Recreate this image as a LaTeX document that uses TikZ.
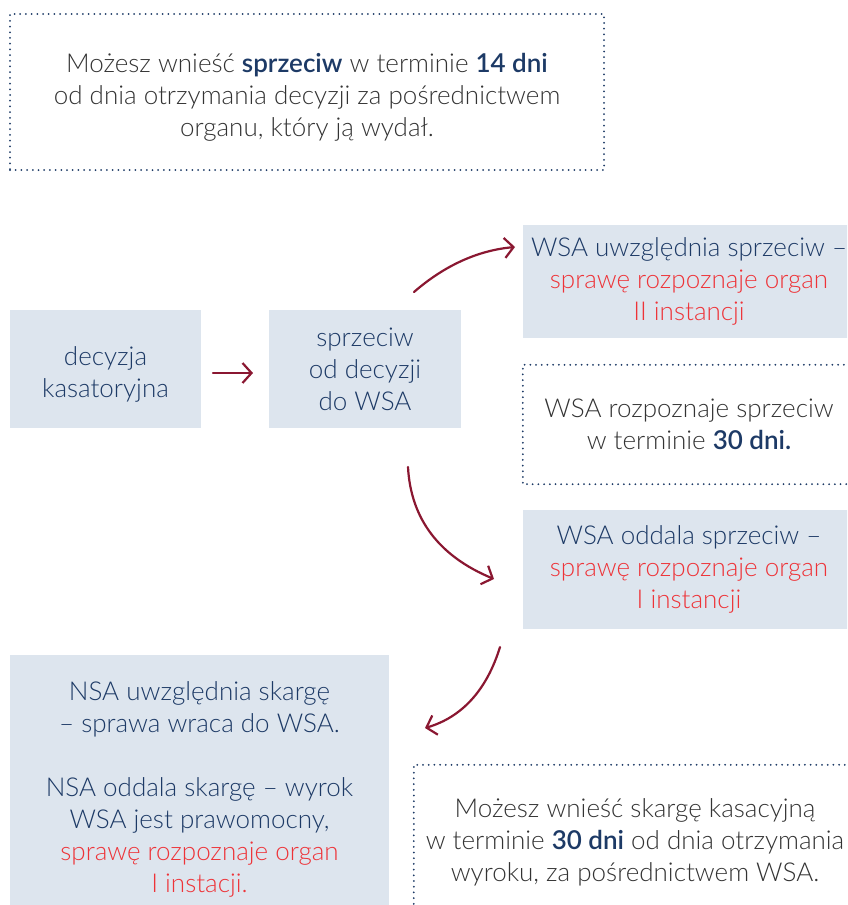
\documentclass[tikz,border=0pt]{standalone}
\usepackage{fontspec}
\setmainfont{Lato}[UprightFont=* Light, BoldFont=* Semibold]
\usetikzlibrary{arrows.meta}

\definecolor{boxfill}{HTML}{DDE5EE}
\definecolor{navy}{HTML}{1D3A66}
\definecolor{txtgray}{HTML}{333333}
\definecolor{alertred}{HTML}{EE3338}
\definecolor{arrowred}{HTML}{8A1731}
\newcommand{\emphnavy}[1]{\textbf{\textcolor{navy}{#1}}}
\newcommand{\redtxt}[1]{\textcolor{alertred}{#1}}
\newcommand{\topgap}[1]{\rule{0pt}{#1pt}}

\begin{document}
\begin{tikzpicture}[x=1pt, y=-1pt]
	\tikzset{every node/.style={font=\fontsize{26}{32}\selectfont, align=center, inner sep=0pt},
		fillbox/.style={fill=boxfill, text=navy},
		notebox/.style={text=txtgray},
		dotline/.style={draw=navy, line width=2pt, line cap=round, dash pattern=on 0pt off 5.7pt},
		flow/.style={draw=arrowred, line width=2.2pt, line cap=round, -{Straight Barb[length=9pt, width=20pt, line width=2.2pt]}} }

	\useasboundingbox (0,0) rectangle (847,905);
	\clip (0,0) rectangle (847,905);

	% notes
	\node[dotline, notebox, minimum width=594pt, minimum height=156pt] (info) at (307,92)
		{\topgap{30}Możesz wnieść \emphnavy{sprzeciw} w terminie \emphnavy{14 dni}\\od dnia otrzymania decyzji za pośrednictwem\\organu, który ją wydał.};
	\node[notebox, minimum width=332pt, minimum height=119pt] (review) at (689,424.5)
		{WSA rozpoznaje sprzeciw\\w terminie \emphnavy{30 dni.}};
	\node[notebox, minimum width=442pt, minimum height=150pt] (cassation) at (635,840)
		{\topgap{24}Możesz wnieść skargę kasacyjną\\w terminie \emphnavy{30 dni} od dnia otrzymania\\wyroku, za pośrednictwem WSA.};
	\draw[dotline] (review.north east) -- (review.north west) -- (review.south west) -- (review.south east);
	\draw[dotline] (cassation.south west) -- (cassation.north west) -- (cassation.north east);

	% steps
	\node[fillbox, minimum width=191pt, minimum height=118pt] (decision) at (105.5,369) {\topgap{30}decyzja\\kasatoryjna};
	\node[fillbox, minimum width=192pt, minimum height=118pt] (objection) at (365,369) {sprzeciw\\od decyzji\\do WSA};
	\node[fillbox, minimum width=332pt, minimum height=113pt] (granted) at (689,281.5)
		{WSA uwzględnia sprzeciw –\\\redtxt{sprawę rozpoznaje organ}\\\redtxt{II instancji}};
	\node[fillbox, minimum width=332pt, minimum height=119pt] (dismissed) at (689,569.5)
		{WSA oddala sprzeciw –\\\redtxt{sprawę rozpoznaje organ}\\\redtxt{I instancji}};
	\node[fillbox, minimum width=379pt, minimum height=264pt] (nsa) at (199.5,787)
		{\topgap{24}NSA uwzględnia skargę\\– sprawa wraca do WSA.\\[32pt]NSA oddala skargę – wyrok\\WSA jest prawomocny,\\\redtxt{sprawę rozpoznaje organ}\\\redtxt{I instacji.}};

	% arrows
	\coordinate (a1) at (213,373);
	\coordinate (a2) at (253,373);
	\coordinate (b1) at (414,292);
	\coordinate (b2) at (515,247);
	\coordinate (c1) at (408,467);
	\coordinate (c2) at (494,579);
	\coordinate (d1) at (500,647);
	\coordinate (d2) at (425,728);
	\draw[flow] (a1) -- (a2);
	\draw[flow] (b1) .. controls (444.7,265.3) and (478.3,250.3) .. (b2);
	\draw[flow] (c1) .. controls (410.7,519) and (439.3,556.3) .. (c2);
	\draw[flow] (d1) .. controls (486.7,690.3) and (461.7,717.3) .. (d2);
\end{tikzpicture}
\end{document}
